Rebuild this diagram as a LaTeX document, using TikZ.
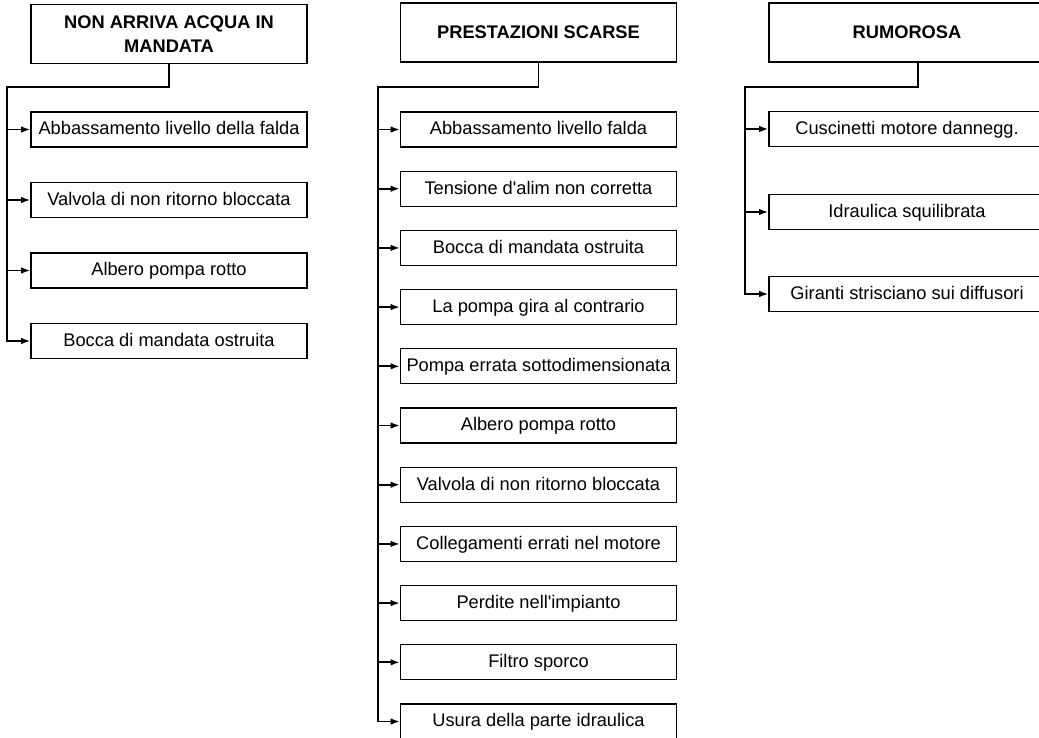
\documentclass[tikz,border=0pt]{standalone}
\usepackage{fontspec}
\setmainfont{Liberation Sans}
\usetikzlibrary{arrows.meta}

\begin{document}
\begin{tikzpicture}[
  x=0.75pt, y=-0.75pt,
  >={Latex[length=7pt,width=5pt]},
  every node/.style={font=\fontsize{13.7}{16}\selectfont},
  head/.style={draw,line width=0.9pt,minimum width=207pt,minimum height=44.25pt,
    align=center,font=\fontsize{13.7}{17.5}\selectfont\bfseries},
  cause/.style={draw,line width=0.9pt,minimum width=207pt,minimum height=26.25pt,inner sep=1pt,
    text height=11pt,text depth=2.8pt},
  link/.style={line width=1.4pt}
]
  \useasboundingbox (0,0) rectangle (1039,738);

  % non arriva acqua
  \node[head] (h1) at (169,34) {NON ARRIVA ACQUA IN\\MANDATA};
  \node[cause] (a1) at (169,129.5) {Abbassamento livello della falda};
  \node[cause] (a2) at (169,200) {Valvola di non ritorno bloccata};
  \node[cause] (a3) at (169,270.5) {Albero pompa rotto};
  \node[cause] (a4) at (169,341) {Bocca di mandata ostruita};
  \coordinate (t1) at (7,87);

  \draw[link,->] (h1.south) |- (t1) |- (a4.west);
  \draw[link,->] (t1 |- a1.west) -- (a1.west);
  \draw[link,->] (t1 |- a2.west) -- (a2.west);
  \draw[link,->] (t1 |- a3.west) -- (a3.west);

  % prestazioni scarse
  \node[head] (h2) at (538.5,32.5) {PRESTAZIONI SCARSE};
  \node[cause] (b1) at (538.5,129.5) {Abbassamento livello falda};
  \node[cause] (b2) at (538.5,188.7) {Tensione d\textquotesingle alim non corretta};
  \node[cause] (b3) at (538.5,247.9) {Bocca di mandata ostruita};
  \node[cause] (b4) at (538.5,307.1) {La pompa gira al contrario};
  \node[cause] (b5) at (538.5,366.3) {Pompa errata sottodimensionata};
  \node[cause] (b6) at (538.5,425.5) {Albero pompa rotto};
  \node[cause] (b7) at (538.5,484.7) {Valvola di non ritorno bloccata};
  \node[cause] (b8) at (538.5,543.9) {Collegamenti errati nel motore};
  \node[cause] (b9) at (538.5,603.1) {Perdite nell\textquotesingle impianto};
  \node[cause] (b10) at (538.5,662.3) {Filtro sporco};
  \node[cause] (b11) at (538.5,721.5) {Usura della parte idraulica};
  \coordinate (t2) at (378,87);

  \draw[link,->] (h2.south) |- (t2) |- (b11.west);
  \draw[link,->] (t2 |- b1.west) -- (b1.west);
  \draw[link,->] (t2 |- b2.west) -- (b2.west);
  \draw[link,->] (t2 |- b3.west) -- (b3.west);
  \draw[link,->] (t2 |- b4.west) -- (b4.west);
  \draw[link,->] (t2 |- b5.west) -- (b5.west);
  \draw[link,->] (t2 |- b6.west) -- (b6.west);
  \draw[link,->] (t2 |- b7.west) -- (b7.west);
  \draw[link,->] (t2 |- b8.west) -- (b8.west);
  \draw[link,->] (t2 |- b9.west) -- (b9.west);
  \draw[link,->] (t2 |- b10.west) -- (b10.west);

  % rumorosa
  \node[head] (h3) at (907,32.5) {RUMOROSA};
  \node[cause] (c1) at (907,129) {Cuscinetti motore dannegg.};
  \node[cause] (c2) at (907,212) {Idraulica squilibrata};
  \node[cause] (c3) at (907,294) {Giranti strisciano sui diffusori};
  \coordinate (t3) at (745,87);

  \draw[link,->] ([xshift=8.25pt]h3.south) |- (t3) |- (c3.west);
  \draw[link,->] (t3 |- c1.west) -- (c1.west);
  \draw[link,->] (t3 |- c2.west) -- (c2.west);
\end{tikzpicture}
\end{document}
